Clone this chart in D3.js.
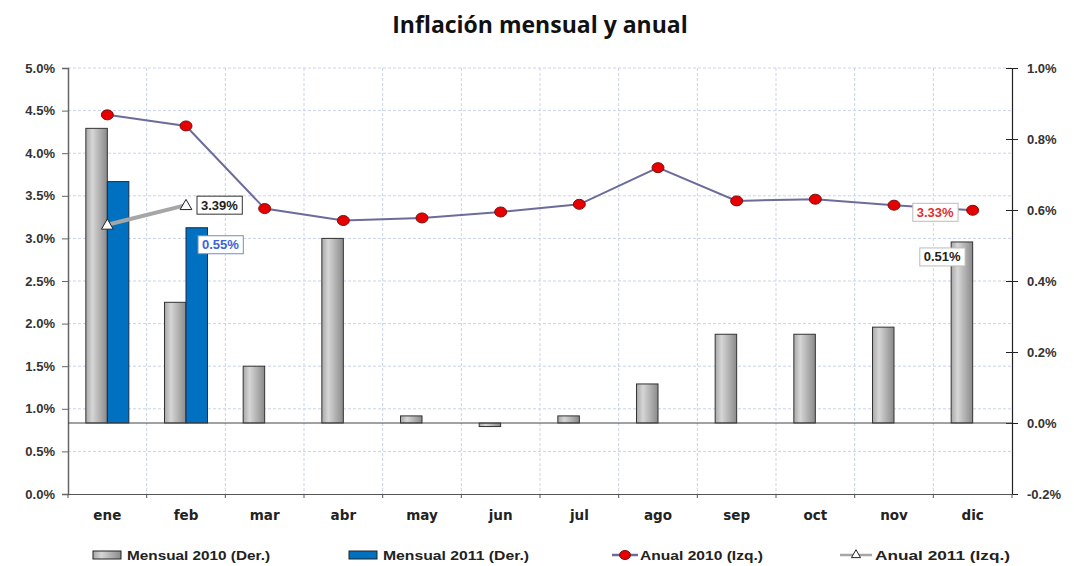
<!DOCTYPE html>
<html>
<head>
<meta charset="utf-8">
<script src="https://cdn.jsdelivr.net/npm/d3@7"></script>
<style>
  body { margin: 0; background: #fff; }
  svg { display: block; }
  text { font-family: Arial, "Liberation Sans", sans-serif; }
</style>
</head>
<body>
<div id="chart"></div>
<script>
// data
const months = ["ene", "feb", "mar", "abr", "may", "jun", "jul", "ago", "sep", "oct", "nov", "dic"];
const mensual2010 = [0.83, 0.34, 0.16, 0.52, 0.02, -0.01, 0.02, 0.11, 0.25, 0.25, 0.27, 0.51];
const mensual2011 = [0.68, 0.55];
const anual2010 = [4.45, 4.32, 3.35, 3.21, 3.24, 3.31, 3.40, 3.83, 3.44, 3.46, 3.39, 3.33];
const anual2011 = [3.16, 3.39];
const leftTicks = [0, 0.5, 1, 1.5, 2, 2.5, 3, 3.5, 4, 4.5, 5];
const rightTicks = [-0.2, 0, 0.2, 0.4, 0.6, 0.8, 1.0];

const width = 1074, height = 566;
const m = { left: 68, right: 62, top: 68, bottom: 72 };

const svg = d3.select("#chart").append("svg")
  .attr("width", width)
  .attr("height", height);

const defs = svg.append("defs");
const grad = defs.append("linearGradient").attr("id", "grayBar")
  .attr("x1", "0%").attr("x2", "100%").attr("y1", "0%").attr("y2", "0%");
grad.append("stop").attr("offset", "0%").attr("stop-color", "#a8a8a8");
grad.append("stop").attr("offset", "30%").attr("stop-color", "#d6d6d6");
grad.append("stop").attr("offset", "100%").attr("stop-color", "#8a8a8a");

const x = d3.scaleBand().domain(months).range([m.left, width - m.right]);
const bw = x.bandwidth();
const x1 = d3.scaleBand().domain(["2010", "2011"]).range([bw / 2 - 21.5, bw / 2 + 21.5]);
const yL = d3.scaleLinear().domain([0, 5]).range([height - m.bottom, m.top]);
const yR = d3.scaleLinear().domain([-0.2, 1.0]).range([height - m.bottom, m.top]);
const cx = d => x(d) + bw / 2;

// title
svg.append("text")
  .attr("x", 540).attr("y", 33)
  .attr("text-anchor", "middle")
  .style("font-family", "'Open Sans', Lato, sans-serif")
  .style("font-weight", "bold")
  .style("font-size", "23px")
  .style("fill", "#111")
  .text("Inflación mensual y anual");

// grid
const grid = svg.append("g").attr("class", "grid");
grid.selectAll("line.h")
  .data(leftTicks.filter(t => t > 0))
  .enter().append("line")
  .attr("x1", m.left).attr("x2", width - m.right)
  .attr("y1", d => yL(d)).attr("y2", d => yL(d))
  .style("stroke", "#c9d4ea").style("stroke-dasharray", "3,2");
grid.selectAll("line.v")
  .data(months.slice(1))
  .enter().append("line")
  .attr("x1", d => x(d)).attr("x2", d => x(d))
  .attr("y1", m.top).attr("y2", height - m.bottom)
  .style("stroke", "#c9d4ea").style("stroke-dasharray", "3,2");

// left axis
const axL = svg.append("g")
  .attr("transform", `translate(${m.left},0)`)
  .call(d3.axisLeft(yL).tickValues(leftTicks).tickFormat(d => d.toFixed(1) + "%").tickSize(6).tickPadding(7));
axL.select(".domain").style("stroke", "#666").style("stroke-width", 1.5);
axL.selectAll(".tick line").style("stroke", "#666");
axL.selectAll("text").style("font-size", "13px").style("font-weight", "bold").style("fill", "#333")
  .style("font-family", "Arial, 'Liberation Sans', sans-serif");

// right axis
const axR = svg.append("g")
  .attr("transform", `translate(${width - m.right},0)`)
  .call(d3.axisRight(yR).tickValues(rightTicks).tickFormat(d => d.toFixed(1) + "%").tickSize(6).tickPadding(9));
axR.select(".domain").style("stroke", "#222").style("stroke-width", 1.2);
axR.selectAll(".tick line").attr("x1", -6).style("stroke", "#222");
axR.selectAll("text").style("font-size", "13px").style("font-weight", "bold").style("fill", "#333")
  .style("font-family", "Arial, 'Liberation Sans', sans-serif");

// bottom axis
const axB = svg.append("g")
  .attr("transform", `translate(0,${height - m.bottom})`)
  .call(d3.axisBottom(x).tickSize(0).tickPadding(16));
axB.select(".domain").style("stroke", "#555").style("stroke-width", 1.2);
axB.selectAll("text")
  .style("font-family", "'DejaVu Sans', Verdana, sans-serif")
  .style("font-weight", "bold").style("font-size", "13.5px").style("fill", "#222");
axB.selectAll(".bt")
  .data(months.concat(["end"]))
  .enter().append("line")
  .attr("x1", (d, i) => m.left + i * bw).attr("x2", (d, i) => m.left + i * bw)
  .attr("y1", 0).attr("y2", 4)
  .style("stroke", "#555");

// bars
const bars = svg.append("g").attr("class", "bars");
bars.selectAll("rect.m10")
  .data(mensual2010)
  .enter().append("rect")
  .attr("x", (d, i) => x(months[i]) + x1("2010"))
  .attr("width", x1.bandwidth())
  .attr("y", d => Math.min(yR(d), yR(0)))
  .attr("height", d => Math.abs(yR(d) - yR(0)))
  .attr("fill", "url(#grayBar)")
  .style("stroke", "#333").style("stroke-width", 1);
bars.selectAll("rect.m11")
  .data(mensual2011)
  .enter().append("rect")
  .attr("x", (d, i) => x(months[i]) + x1("2011"))
  .attr("width", x1.bandwidth())
  .attr("y", d => yR(d))
  .attr("height", d => yR(0) - yR(d))
  .attr("fill", "#0070c0")
  .style("stroke", "#1a2a44").style("stroke-width", 1);

// zero line of right axis
svg.append("line")
  .attr("x1", m.left).attr("x2", width - m.right)
  .attr("y1", yR(0)).attr("y2", yR(0))
  .style("stroke", "#444").style("stroke-width", 1.2);

// anual 2010 line
const line = d3.line().x((d, i) => cx(months[i])).y(d => yL(d));
svg.append("path")
  .datum(anual2010)
  .attr("d", line)
  .attr("fill", "none")
  .style("stroke", "#6c6c9c").style("stroke-width", 2);
svg.selectAll("ellipse.a10")
  .data(anual2010)
  .enter().append("ellipse")
  .attr("cx", (d, i) => cx(months[i]))
  .attr("cy", d => yL(d))
  .attr("rx", 6).attr("ry", 5)
  .attr("fill", "#e60000")
  .style("stroke", "#7a1010").style("stroke-width", 1);

// anual 2011 line
svg.append("path")
  .datum(anual2011)
  .attr("d", line)
  .attr("fill", "none")
  .style("stroke", "#a6a6a6").style("stroke-width", 4);
const tri = d3.symbol().type(d3.symbolTriangle).size(60);
svg.selectAll("path.a11")
  .data(anual2011)
  .enter().append("path")
  .attr("d", tri)
  .attr("transform", (d, i) => `translate(${cx(months[i])},${yL(d) + 1})`)
  .attr("fill", "#fff")
  .style("stroke", "#222").style("stroke-width", 1);

// value labels
function label(px, py, txt, color, border, anchor) {
  const g = svg.append("g");
  const t = g.append("text")
    .attr("x", px).attr("y", py + 4.5)
    .attr("text-anchor", anchor)
    .style("font-size", "13px").style("font-weight", "bold")
    .style("fill", color)
    .text(txt);
  const b = t.node().getBBox();
  g.insert("rect", "text")
    .attr("x", b.x - 4).attr("y", py - 9)
    .attr("width", b.width + 8).attr("height", 18)
    .attr("fill", "#fff")
    .style("stroke", border).style("stroke-width", 1);
}
label(cx("feb") + 15, yL(anual2011[1]), anual2011[1].toFixed(2) + "%", "#222", "#333", "start");
label(x("feb") + x1("2011") + 16, yR(mensual2011[1]) + 17, mensual2011[1].toFixed(2) + "%", "#3d62d6", "#6f8fb8", "start");
label(cx("dic") - 19, yL(anual2010[11]) + 2, anual2010[11].toFixed(2) + "%", "#e03030", "#bbb", "end");
label(cx("dic") - 12, yR(mensual2010[11]) + 15, mensual2010[11].toFixed(2) + "%", "#222", "#bbb", "end");

// legend
const legend = svg.append("g").attr("transform", "translate(0,555)");
const items = [
  { name: "Mensual 2010 (Der.)", x: 93, type: "gray", len: 143 },
  { name: "Mensual 2011 (Der.)", x: 349, type: "blue", len: 146 },
  { name: "Anual 2010 (Izq.)", x: 612, type: "red", len: 123 },
  { name: "Anual 2011 (Izq.)", x: 840, type: "tri", len: 135 }
];
items.forEach(it => {
  const g = legend.append("g").attr("transform", `translate(${it.x},0)`);
  let tx;
  if (it.type === "gray" || it.type === "blue") {
    g.append("rect").attr("x", 0).attr("y", -4).attr("width", 28).attr("height", 8)
      .attr("fill", it.type === "gray" ? "url(#grayBar)" : "#0070c0")
      .style("stroke", "#222").style("stroke-width", 1);
    tx = 34;
  } else if (it.type === "red") {
    g.append("line").attr("x1", 0).attr("x2", 26).style("stroke", "#6c6c9c").style("stroke-width", 2.5);
    g.append("ellipse").attr("cx", 13).attr("rx", 5.5).attr("ry", 4.5).attr("fill", "#e60000").style("stroke", "#7a1010");
    tx = 28;
  } else {
    g.append("line").attr("x1", 0).attr("x2", 32).style("stroke", "#a6a6a6").style("stroke-width", 2.5);
    g.append("path").attr("d", d3.symbol().type(d3.symbolTriangle).size(36))
      .attr("transform", "translate(16,0)").attr("fill", "#fff").style("stroke", "#222");
    tx = 35;
  }
  g.append("text").attr("x", tx).attr("y", 5)
    .attr("textLength", it.len).attr("lengthAdjust", "spacingAndGlyphs")
    .text(it.name);
});
legend.selectAll("text")
  .style("font-size", "13.5px").style("font-weight", "bold").style("fill", "#222");
</script>
</body>
</html>
